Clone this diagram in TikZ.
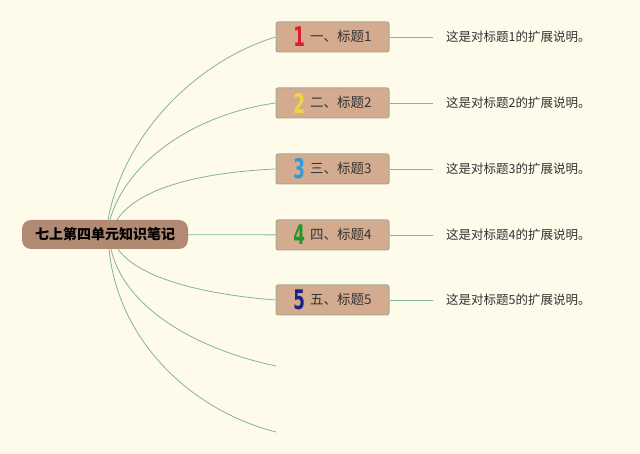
\documentclass[tikz,border=0pt]{standalone}
\usepackage{fontspec}
\usepackage{graphicx}
\setmainfont{Noto Sans CJK SC}
\newfontfamily\numfont{DejaVu Sans}
\definecolor{bgcream}{HTML}{FEFBEA}
\definecolor{rootfill}{HTML}{B08A73}
\definecolor{boxfill}{HTML}{D4AB8F}
\definecolor{boxline}{HTML}{A3AC93}
\definecolor{linkgreen}{HTML}{82B596}
\definecolor{textgray}{HTML}{333333}
\definecolor{numred}{HTML}{E11B2C}
\definecolor{numyellow}{HTML}{F3D63C}
\definecolor{numblue}{HTML}{2E9AD8}
\definecolor{numgreen}{HTML}{1E9A2A}
\definecolor{numnavy}{HTML}{1B2480}
\newcommand{\bignum}[2]{\raisebox{-5.5pt}{\textcolor{#1}{\scalebox{0.62}[1]{\numfont\fontsize{27}{27}\selectfont\bfseries #2}}}\hspace{5pt}}

\begin{document}
\begin{tikzpicture}[x=1pt,y=-1pt,
  rootbox/.style={fill=rootfill,rounded corners=9pt,minimum width=166pt,minimum height=29pt,inner sep=0pt,font=\fontsize{14}{14}\selectfont\bfseries},
  titlebox/.style={fill=boxfill,draw=boxline,line width=1pt,rounded corners=2pt,minimum width=113pt,minimum height=30pt,inner sep=0pt,text=textgray,font=\fontsize{13.5}{13.5}\selectfont},
  note/.style={anchor=west,inner sep=0pt,text=textgray,font=\fontsize{12.5}{13}\selectfont},
  link/.style={draw=linkgreen,line width=0.8pt}]
\fill[bgcream] (0,0) rectangle (640,454);
\useasboundingbox (0,0) rectangle (640,454);
% centre
\node[rootbox] (root) at (105,234.5) {七上第四单元知识笔记};
% titles
\node[titlebox] (t1) at (332.5,37) {\bignum{numred}{1}一、标题1};
\node[titlebox] (t2) at (332.5,103) {\bignum{numyellow}{2}二、标题2};
\node[titlebox] (t3) at (332.5,169) {\bignum{numblue}{3}三、标题3};
\node[titlebox] (t4) at (332.5,235) {\bignum{numgreen}{4}四、标题4};
\node[titlebox] (t5) at (332.5,300) {\bignum{numnavy}{5}五、标题5};
% notes
\node[note] (d1) at (446,37) {这是对标题1的扩展说明。};
\node[note] (d2) at (446,103) {这是对标题2的扩展说明。};
\node[note] (d3) at (446,169) {这是对标题3的扩展说明。};
\node[note] (d4) at (446,235) {这是对标题4的扩展说明。};
\node[note] (d5) at (446,300) {这是对标题5的扩展说明。};
\coordinate (e6) at (276,366);
\coordinate (e7) at (276,432);
% branches
\draw[link] ([xshift=3pt]root.north) .. controls (125,130) and (200,60) .. (t1.west);
\draw[link] ([xshift=5pt]root.north) .. controls (125,165) and (190,115) .. (t2.west);
\draw[link] ([xshift=12pt]root.north) .. controls (140,185) and (210,172) .. (t3.west);
\draw[link] (root) -- (t4);
\draw[link] ([xshift=13pt]root.south) .. controls (140,280) and (210,295) .. (t5.west);
\draw[link] ([xshift=6pt]root.south) .. controls (125,310) and (200,350) .. (e6);
\draw[link] ([xshift=4pt]root.south) .. controls (118,340) and (190,410) .. (e7);
\foreach \i in {1,...,5}
  \draw[link,shorten >=13pt] (t\i) -- (d\i);
\end{tikzpicture}
\end{document}
